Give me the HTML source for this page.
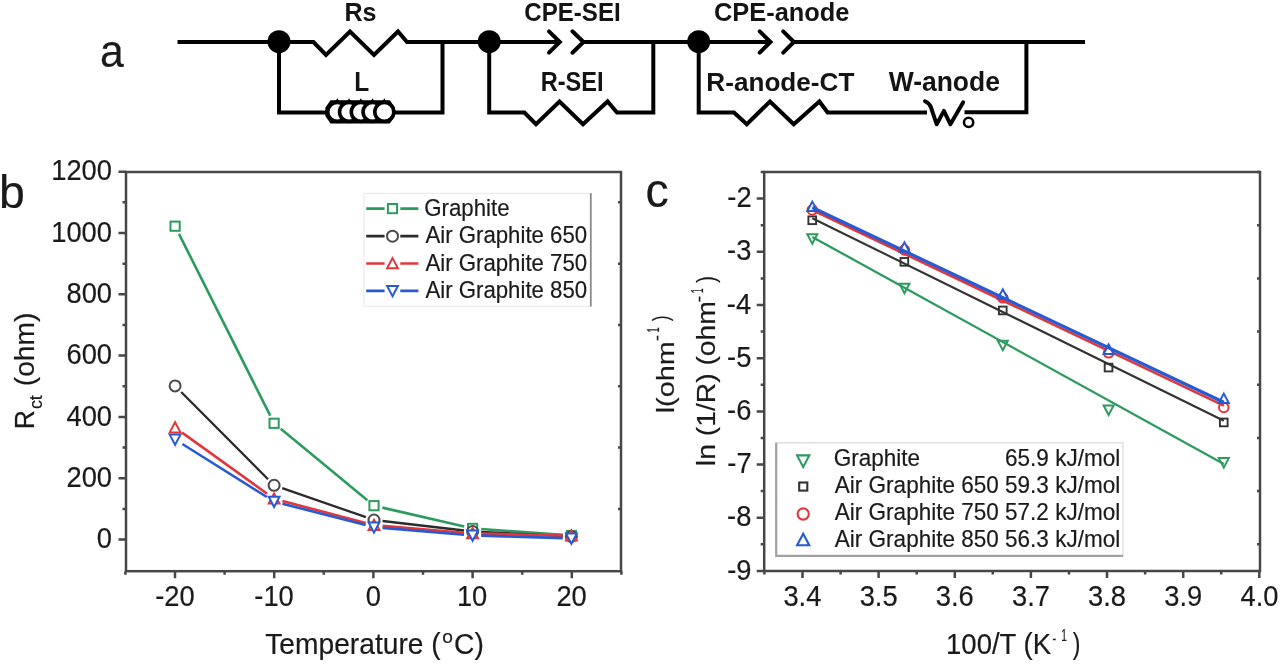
<!DOCTYPE html>
<html><head><meta charset="utf-8"><style>html,body{margin:0;padding:0;background:#fff;width:1280px;height:664px;overflow:hidden;position:relative}text{font-family:"Liberation Sans",sans-serif}text[font-weight="normal"]{stroke:#222;stroke-width:0.2px}</style></head><body>
<svg width="1280" height="664" viewBox="0 0 1280 664" style="position:absolute;left:0;top:0;filter:blur(0.55px)">
<rect width="1280" height="664" fill="#fff"/>
<g fill="none" stroke="#000" stroke-width="4" stroke-linejoin="miter">
<path d="M177.5 42 H313.5 L326 55 L350 31.5 L374 55 L398 31.5 L407 42 H559.8"/>
<path d="M583.5 42 H769.5"/>
<path d="M793.9 42 H1085"/>
<path d="M549 31.3 L559.8 42 L549 52.7" stroke-linecap="round"/>
<path d="M572.4 31.3 L583.5 42 L572.4 52.7" stroke-linecap="round"/>
<path d="M759.7 31.3 L770.5 42 L759.7 52.7" stroke-linecap="round"/>
<path d="M783.2 31.3 L793.9 42 L783.2 52.7" stroke-linecap="round"/>
<path d="M279 42 V112.5 H327"/>
<path d="M395 112.5 H442.5 V42"/>
<path d="M489.2 42 V112.5 H524.4 L536 124.2 L559.5 101.5 L583 124.2 L607.6 101.5 L617 112.5 H653.3 V42"/>
<path d="M698.7 42 V112.5 H734 L746.8 124.2 L770 101.5 L793.7 124.2 L819.4 101.5 L827.6 112.5 H927"/>
<path d="M964.5 112.3 H1026.4 V42"/>
</g>
<circle cx="279" cy="41.7" r="11.5" fill="#000"/>
<circle cx="489.2" cy="41.7" r="11.5" fill="#000"/>
<circle cx="698.7" cy="41.7" r="11.5" fill="#000"/>
<path d="M325.3 107.8 L330.5 100.2 H389.8 L395 107.8 V116 L389.8 123.5 H330.5 L325.3 116 Z" fill="#000"/>
<g stroke="#000" stroke-width="3.6" fill="#fff">
<circle cx="337.30" cy="111.9" r="9.5"/>
<circle cx="349.05" cy="111.9" r="9.5"/>
<circle cx="360.80" cy="111.9" r="9.5"/>
<circle cx="372.55" cy="111.9" r="9.5"/>
<circle cx="384.30" cy="111.9" r="9.5"/>
</g>
<path d="M335.70 101 L337.30 98.3 L338.90 101 Z M347.45 101 L349.05 98.3 L350.65 101 Z M359.20 101 L360.80 98.3 L362.40 101 Z M370.95 101 L372.55 98.3 L374.15 101 Z M382.70 101 L384.30 98.3 L385.90 101 Z" fill="#000"/>
<path d="M925 101.2 Q929.6 103 931 107.5 L936.7 124.3 L943.9 110.9 L950.4 124.3 L963.2 102.3" fill="none" stroke="#000" stroke-width="3.9" stroke-linecap="round" stroke-linejoin="round"/>
<circle cx="968.6" cy="122.4" r="4.6" fill="none" stroke="#000" stroke-width="2.6"/>
<g font-family="Liberation Sans, sans-serif">
<text transform="translate(344.47,21.00) scale(0.9450,1)" font-size="26.5" font-weight="bold" fill="#141414" >Rs</text>
<text transform="translate(524.34,21.10) scale(0.9088,1)" font-size="26.5" font-weight="bold" fill="#141414" >CPE-SEI</text>
<text transform="translate(713.98,21.00) scale(0.9592,1)" font-size="26.5" font-weight="bold" fill="#141414" >CPE-anode</text>
<text transform="translate(354.31,91.20) scale(0.8929,1)" font-size="27.4" font-weight="bold" fill="#141414" >L</text>
<text transform="translate(540.67,91.20) scale(0.8609,1)" font-size="27.4" font-weight="bold" fill="#141414" >R-SEI</text>
<text transform="translate(706.30,91.00) scale(0.9869,1)" font-size="26.5" font-weight="bold" fill="#141414" >R-anode-CT</text>
<text transform="translate(888.70,91.30) scale(0.9882,1)" font-size="26.8" font-weight="bold" fill="#141414" >W-anode</text>
<text transform="translate(100.09,67.20) scale(0.9089,1)" font-size="47" font-weight="normal" fill="#1a1a1a" >a</text>
<text transform="translate(-1.12,208.20) scale(1.0097,1)" font-size="46" font-weight="normal" fill="#1a1a1a" >b</text>
<text transform="translate(645.54,206.90) scale(0.9776,1)" font-size="47.5" font-weight="normal" fill="#1a1a1a" >c</text>
</g>
<g stroke="#474747" stroke-width="2.5" fill="none">
<rect x="126" y="172" width="495" height="399.20000000000005"/>
<path d="M118.5 539.6 H126 M118.5 478.3 H126 M118.5 417.0 H126 M118.5 355.6 H126 M118.5 294.3 H126 M118.5 233.0 H126 M118.5 171.7 H126 M122.5 508.9 H126 M621 508.9 H618 M122.5 447.6 H126 M621 447.6 H618 M122.5 386.3 H126 M621 386.3 H618 M122.5 325.0 H126 M621 325.0 H618 M122.5 263.7 H126 M621 263.7 H618 M122.5 202.3 H126 M621 202.3 H618 M175.0 571.2 V578.2 M274.2 571.2 V578.2 M373.4 571.2 V578.2 M472.6 571.2 V578.2 M571.8 571.2 V578.2 M125.4 571.2 V574.7 M224.6 571.2 V574.7 M323.8 571.2 V574.7 M423.0 571.2 V574.7 M522.2 571.2 V574.7 M621.4 571.2 V574.7"/>
</g>
<g font-family="Liberation Sans, sans-serif">
<text transform="translate(96.80,548.30) scale(0.9320,1)" font-size="29.3" font-weight="normal" fill="#1a1a1a" >0</text>
<text transform="translate(66.49,486.98) scale(0.9320,1)" font-size="29.3" font-weight="normal" fill="#1a1a1a" >200</text>
<text transform="translate(66.49,425.66) scale(0.9320,1)" font-size="29.3" font-weight="normal" fill="#1a1a1a" >400</text>
<text transform="translate(66.49,364.34) scale(0.9320,1)" font-size="29.3" font-weight="normal" fill="#1a1a1a" >600</text>
<text transform="translate(66.49,303.02) scale(0.9320,1)" font-size="29.3" font-weight="normal" fill="#1a1a1a" >800</text>
<text transform="translate(51.20,241.70) scale(0.9320,1)" font-size="29.3" font-weight="normal" fill="#1a1a1a" >1000</text>
<text transform="translate(51.20,180.38) scale(0.9320,1)" font-size="29.3" font-weight="normal" fill="#1a1a1a" >1200</text>
<text transform="translate(155.13,606.20) scale(0.9320,1)" font-size="29.3" font-weight="normal" fill="#1a1a1a" >-20</text>
<text transform="translate(254.33,606.20) scale(0.9320,1)" font-size="29.3" font-weight="normal" fill="#1a1a1a" >-10</text>
<text transform="translate(365.75,606.20) scale(0.9320,1)" font-size="29.3" font-weight="normal" fill="#1a1a1a" >0</text>
<text transform="translate(456.90,606.20) scale(0.9320,1)" font-size="29.3" font-weight="normal" fill="#1a1a1a" >10</text>
<text transform="translate(556.44,606.20) scale(0.9320,1)" font-size="29.3" font-weight="normal" fill="#1a1a1a" >20</text>
</g>
<path d="M178.96 233.89 L270.24 415.61 M280.73 428.77 L367.37 500.23 M382.38 507.63 L464.22 526.47 M481.18 529.02 L562.82 534.88" fill="none" stroke="#2d9b5f" stroke-width="2.6"/>
<rect x="170.5" y="221.6" width="9.2" height="9.2" fill="#fff" stroke="#2d9b5f" stroke-width="2"/>
<rect x="269.5" y="418.7" width="9.2" height="9.2" fill="#fff" stroke="#2d9b5f" stroke-width="2"/>
<rect x="369.4" y="501.1" width="9.2" height="9.2" fill="#fff" stroke="#2d9b5f" stroke-width="2"/>
<rect x="468.0" y="523.8" width="9.2" height="9.2" fill="#fff" stroke="#2d9b5f" stroke-width="2"/>
<rect x="566.8" y="530.9" width="9.2" height="9.2" fill="#fff" stroke="#2d9b5f" stroke-width="2"/>
<path d="M181.17 391.99 L268.03 479.21 M282.22 488.12 L365.88 517.18 M382.54 521.00 L464.06 530.50 M481.19 531.93 L562.81 536.07" fill="none" stroke="#2b2b2b" stroke-width="2.3"/>
<circle cx="175.1" cy="385.9" r="5.5" fill="#fff" stroke="#4a4a4a" stroke-width="2"/>
<circle cx="274.1" cy="485.3" r="5.5" fill="#fff" stroke="#4a4a4a" stroke-width="2"/>
<circle cx="374.0" cy="520.0" r="5.5" fill="#fff" stroke="#4a4a4a" stroke-width="2"/>
<circle cx="472.6" cy="531.5" r="5.5" fill="#fff" stroke="#4a4a4a" stroke-width="2"/>
<circle cx="571.4" cy="536.5" r="5.5" fill="#fff" stroke="#4a4a4a" stroke-width="2"/>
<path d="M182.08 432.62 L267.12 493.78 M282.41 501.00 L365.69 523.00 M382.57 525.91 L464.03 532.69 M481.20 533.61 L562.80 535.59" fill="none" stroke="#e1373c" stroke-width="2.6"/>
<path d="M175.1 422.2 L180.5 432.4 L169.7 432.4 Z" fill="#fff" stroke="#e1373c" stroke-width="2" stroke-linejoin="miter"/>
<path d="M274.1 493.4 L279.5 503.6 L268.7 503.6 Z" fill="#fff" stroke="#e1373c" stroke-width="2" stroke-linejoin="miter"/>
<path d="M374.0 519.8 L379.4 530.0 L368.6 530.0 Z" fill="#fff" stroke="#e1373c" stroke-width="2" stroke-linejoin="miter"/>
<path d="M472.6 528.0 L478.0 538.2 L467.2 538.2 Z" fill="#fff" stroke="#e1373c" stroke-width="2" stroke-linejoin="miter"/>
<path d="M571.4 530.4 L576.8 540.6 L566.0 540.6 Z" fill="#fff" stroke="#e1373c" stroke-width="2" stroke-linejoin="miter"/>
<path d="M182.38 443.98 L266.82 497.02 M282.43 503.73 L365.67 525.07 M382.57 527.91 L464.03 534.69 M481.20 535.66 L562.80 538.14" fill="none" stroke="#285ad2" stroke-width="2.6"/>
<path d="M175.1 444.8 L180.5 434.6 L169.7 434.6 Z" fill="#fff" stroke="#285ad2" stroke-width="2" stroke-linejoin="miter"/>
<path d="M274.1 507.0 L279.5 496.8 L268.7 496.8 Z" fill="#fff" stroke="#285ad2" stroke-width="2" stroke-linejoin="miter"/>
<path d="M374.0 532.6 L379.4 522.4 L368.6 522.4 Z" fill="#fff" stroke="#285ad2" stroke-width="2" stroke-linejoin="miter"/>
<path d="M472.6 540.8 L478.0 530.6 L467.2 530.6 Z" fill="#fff" stroke="#285ad2" stroke-width="2" stroke-linejoin="miter"/>
<path d="M571.4 543.8 L576.8 533.6 L566.0 533.6 Z" fill="#fff" stroke="#285ad2" stroke-width="2" stroke-linejoin="miter"/>
<rect x="364" y="193.3" width="226.5" height="113" fill="#fff" stroke="#e8e8e8" stroke-width="1"/>
<path d="M590.8 193.1 V306.5" stroke="#8a8a8a" stroke-width="1.8"/>
<g font-family="Liberation Sans, sans-serif">
<path d="M366.2 208.6 H384.6 M400.3 208.6 H418.4" stroke="#2d9b5f" stroke-width="2.7"/>
<rect x="387.9" y="204.0" width="9.2" height="9.2" fill="#fff" stroke="#2d9b5f" stroke-width="2"/>
<text transform="translate(424.29,215.80) scale(0.9456,1)" font-size="23.5" font-weight="normal" fill="#1a1a1a" >Graphite</text>
<path d="M366.2 236.2 H384.6 M400.3 236.2 H418.4" stroke="#2b2b2b" stroke-width="2.7"/>
<circle cx="392.5" cy="236.2" r="5.5" fill="#fff" stroke="#4a4a4a" stroke-width="2"/>
<text transform="translate(425.40,243.40) scale(0.9456,1)" font-size="23.5" font-weight="normal" fill="#1a1a1a" >Air Graphite 650</text>
<path d="M366.2 263.5 H384.6 M400.3 263.5 H418.4" stroke="#e1373c" stroke-width="2.7"/>
<path d="M392.5 258.1 L397.9 268.3 L387.1 268.3 Z" fill="#fff" stroke="#e1373c" stroke-width="2" stroke-linejoin="miter"/>
<text transform="translate(425.40,270.70) scale(0.9456,1)" font-size="23.5" font-weight="normal" fill="#1a1a1a" >Air Graphite 750</text>
<path d="M366.2 290.8 H384.6 M400.3 290.8 H418.4" stroke="#285ad2" stroke-width="2.7"/>
<path d="M392.5 296.2 L397.9 286.0 L387.1 286.0 Z" fill="#fff" stroke="#285ad2" stroke-width="2" stroke-linejoin="miter"/>
<text transform="translate(425.40,298.00) scale(0.9456,1)" font-size="23.5" font-weight="normal" fill="#1a1a1a" >Air Graphite 850</text>
</g>
<g font-family="Liberation Sans, sans-serif">
<text transform="translate(265.24,653.80) scale(0.9831,1)" font-size="28.7" font-weight="normal" fill="#1a1a1a">Temperature (</text>
<text transform="translate(442.13,642.60) scale(1.0083,1)" font-size="19" font-weight="normal" fill="#1a1a1a">o</text>
<text transform="translate(453.99,653.80) scale(0.9860,1)" font-size="28.7" font-weight="normal" fill="#1a1a1a">C)</text>
<text transform="translate(33.50,429.22) rotate(-90) scale(0.9317,1)" font-size="28.5" font-weight="normal" fill="#1a1a1a">R</text>
<text transform="translate(41.50,409.11) rotate(-90) scale(1.0176,1)" font-size="17.5" font-weight="normal" fill="#1a1a1a">ct</text>
<text transform="translate(33.50,386.19) rotate(-90) scale(0.9892,1)" font-size="28.5" font-weight="normal" fill="#1a1a1a">(ohm)</text>
</g>
<g stroke="#474747" stroke-width="2.5" fill="none">
<rect x="764.2" y="172" width="495.79999999999995" height="399"/>
<path d="M756.7 570.9 H764.2 M756.7 517.7 H764.2 M756.7 464.5 H764.2 M756.7 411.4 H764.2 M756.7 358.2 H764.2 M756.7 305.0 H764.2 M756.7 251.8 H764.2 M756.7 198.6 H764.2 M760.7 544.3 H764.2 M1260 544.3 H1257 M760.7 491.1 H764.2 M1260 491.1 H1257 M760.7 438.0 H764.2 M1260 438.0 H1257 M760.7 384.8 H764.2 M1260 384.8 H1257 M760.7 331.6 H764.2 M1260 331.6 H1257 M760.7 278.4 H764.2 M1260 278.4 H1257 M760.7 225.2 H764.2 M1260 225.2 H1257 M760.7 172.0 H764.2 M1260 172.0 H1257 M802.5 571 V578 M878.6 571 V578 M954.8 571 V578 M1030.9 571 V578 M1107.0 571 V578 M1183.2 571 V578 M1259.3 571 V578 M764.4 571 V574.5 M840.6 571 V574.5 M916.7 571 V574.5 M992.8 571 V574.5 M1069.0 571 V574.5 M1145.1 571 V574.5 M1221.2 571 V574.5"/>
</g>
<g font-family="Liberation Sans, sans-serif">
<text transform="translate(727.23,579.63) scale(0.9320,1)" font-size="29.3" font-weight="normal" fill="#1a1a1a" >-9</text>
<text transform="translate(727.09,526.44) scale(0.9320,1)" font-size="29.3" font-weight="normal" fill="#1a1a1a" >-8</text>
<text transform="translate(727.36,473.25) scale(0.9320,1)" font-size="29.3" font-weight="normal" fill="#1a1a1a" >-7</text>
<text transform="translate(727.09,420.06) scale(0.9320,1)" font-size="29.3" font-weight="normal" fill="#1a1a1a" >-6</text>
<text transform="translate(727.09,366.87) scale(0.9320,1)" font-size="29.3" font-weight="normal" fill="#1a1a1a" >-5</text>
<text transform="translate(726.82,313.68) scale(0.9320,1)" font-size="29.3" font-weight="normal" fill="#1a1a1a" >-4</text>
<text transform="translate(727.09,260.49) scale(0.9320,1)" font-size="29.3" font-weight="normal" fill="#1a1a1a" >-3</text>
<text transform="translate(727.36,207.30) scale(0.9320,1)" font-size="29.3" font-weight="normal" fill="#1a1a1a" >-2</text>
<text transform="translate(783.38,606.20) scale(0.9320,1)" font-size="29.3" font-weight="normal" fill="#1a1a1a" >3.4</text>
<text transform="translate(859.65,606.20) scale(0.9320,1)" font-size="29.3" font-weight="normal" fill="#1a1a1a" >3.5</text>
<text transform="translate(935.78,606.20) scale(0.9320,1)" font-size="29.3" font-weight="normal" fill="#1a1a1a" >3.6</text>
<text transform="translate(1012.05,606.20) scale(0.9320,1)" font-size="29.3" font-weight="normal" fill="#1a1a1a" >3.7</text>
<text transform="translate(1088.04,606.20) scale(0.9320,1)" font-size="29.3" font-weight="normal" fill="#1a1a1a" >3.8</text>
<text transform="translate(1164.24,606.20) scale(0.9320,1)" font-size="29.3" font-weight="normal" fill="#1a1a1a" >3.9</text>
<text transform="translate(1240.51,606.20) scale(0.9320,1)" font-size="29.3" font-weight="normal" fill="#1a1a1a" >4.0</text>
</g>
<path d="M812.3 243.7 L817.3 234.2 L807.3 234.2 Z" fill="#fff" stroke="#2d9b5f" stroke-width="2" stroke-linejoin="miter"/>
<path d="M904.4 293.2 L909.4 283.7 L899.4 283.7 Z" fill="#fff" stroke="#2d9b5f" stroke-width="2" stroke-linejoin="miter"/>
<path d="M1002.8 350.2 L1007.8 340.7 L997.8 340.7 Z" fill="#fff" stroke="#2d9b5f" stroke-width="2" stroke-linejoin="miter"/>
<path d="M1108.6 415.0 L1113.6 405.5 L1103.6 405.5 Z" fill="#fff" stroke="#2d9b5f" stroke-width="2" stroke-linejoin="miter"/>
<path d="M1223.8 467.6 L1228.8 458.1 L1218.8 458.1 Z" fill="#fff" stroke="#2d9b5f" stroke-width="2" stroke-linejoin="miter"/>
<path d="M812.3 236.9 L1223.8 464.0" stroke="#2d9b5f" stroke-width="2.3"/>
<rect x="808.4" y="216.4" width="7.7" height="7.7" fill="#fff" stroke="#333333" stroke-width="1.9"/>
<rect x="900.5" y="258.0" width="7.7" height="7.7" fill="#fff" stroke="#333333" stroke-width="1.9"/>
<rect x="998.9" y="306.6" width="7.7" height="7.7" fill="#fff" stroke="#333333" stroke-width="1.9"/>
<rect x="1104.7" y="363.7" width="7.7" height="7.7" fill="#fff" stroke="#333333" stroke-width="1.9"/>
<rect x="1219.9" y="418.6" width="7.7" height="7.7" fill="#fff" stroke="#333333" stroke-width="1.9"/>
<path d="M812.3 218.2 L1223.8 420.8" stroke="#333333" stroke-width="2.1"/>
<circle cx="812.3" cy="210.0" r="4.8" fill="#fff" stroke="#e1373c" stroke-width="2"/>
<circle cx="904.4" cy="250.0" r="4.8" fill="#fff" stroke="#e1373c" stroke-width="2"/>
<circle cx="1002.8" cy="297.8" r="4.8" fill="#fff" stroke="#e1373c" stroke-width="2"/>
<circle cx="1108.6" cy="352.8" r="4.8" fill="#fff" stroke="#e1373c" stroke-width="2"/>
<circle cx="1223.8" cy="407.5" r="4.8" fill="#fff" stroke="#e1373c" stroke-width="2"/>
<path d="M812.3 210.0 L1223.8 405.7" stroke="#e1373c" stroke-width="2.6"/>
<path d="M812.3 201.6 L817.3 211.1 L807.3 211.1 Z" fill="#fff" stroke="#285ad2" stroke-width="2" stroke-linejoin="miter"/>
<path d="M904.4 242.3 L909.4 251.8 L899.4 251.8 Z" fill="#fff" stroke="#285ad2" stroke-width="2" stroke-linejoin="miter"/>
<path d="M1002.8 289.3 L1007.8 298.8 L997.8 298.8 Z" fill="#fff" stroke="#285ad2" stroke-width="2" stroke-linejoin="miter"/>
<path d="M1108.6 344.5 L1113.6 354.0 L1103.6 354.0 Z" fill="#fff" stroke="#285ad2" stroke-width="2" stroke-linejoin="miter"/>
<path d="M1223.8 393.6 L1228.8 403.1 L1218.8 403.1 Z" fill="#fff" stroke="#285ad2" stroke-width="2" stroke-linejoin="miter"/>
<path d="M812.3 207.5 L1223.8 402.2" stroke="#285ad2" stroke-width="3.2"/>
<rect x="776" y="442.8" width="347" height="113" fill="#fff" stroke="#dadada" stroke-width="1.2"/>
<path d="M776.2 442.8 V555.8 H1123" fill="none" stroke="#a2a2a2" stroke-width="2.2"/>
<g font-family="Liberation Sans, sans-serif">
<path d="M803.2 466.9 L809.3 455.4 L797.1 455.4 Z" fill="#fff" stroke="#2d9b5f" stroke-width="2.1" stroke-linejoin="miter"/>
<text transform="translate(833.67,466.20) scale(0.9588,1)" font-size="23.5" font-weight="normal" fill="#1a1a1a" >Graphite</text>
<text transform="translate(1005.03,466.20) scale(0.9588,1)" font-size="23.5" font-weight="normal" fill="#1a1a1a" >65.9 kJ/mol</text>
<rect x="799.2" y="482.5" width="8.1" height="8.1" fill="#fff" stroke="#333333" stroke-width="2.1"/>
<text transform="translate(834.80,493.00) scale(0.9588,1)" font-size="23.5" font-weight="normal" fill="#1a1a1a" >Air Graphite 650</text>
<text transform="translate(1005.03,493.00) scale(0.9588,1)" font-size="23.5" font-weight="normal" fill="#1a1a1a" >59.3 kJ/mol</text>
<circle cx="803.2" cy="514.0" r="5.6" fill="#fff" stroke="#e1373c" stroke-width="2.1"/>
<text transform="translate(834.80,520.20) scale(0.9588,1)" font-size="23.5" font-weight="normal" fill="#1a1a1a" >Air Graphite 750</text>
<text transform="translate(1005.03,520.20) scale(0.9588,1)" font-size="23.5" font-weight="normal" fill="#1a1a1a" >57.2 kJ/mol</text>
<path d="M803.2 533.7 L809.3 545.2 L797.1 545.2 Z" fill="#fff" stroke="#285ad2" stroke-width="2.1" stroke-linejoin="miter"/>
<text transform="translate(834.80,546.90) scale(0.9588,1)" font-size="23.5" font-weight="normal" fill="#1a1a1a" >Air Graphite 850</text>
<text transform="translate(1005.03,546.90) scale(0.9588,1)" font-size="23.5" font-weight="normal" fill="#1a1a1a" >56.3 kJ/mol</text>
</g>
<g font-family="Liberation Sans, sans-serif">
<text transform="translate(946.03,653.60) scale(0.9594,1)" font-size="28.7" font-weight="normal" fill="#1a1a1a">100/T (K</text>
<text transform="translate(1052.40,643.60) scale(0.6888,1)" font-size="16" font-weight="normal" fill="#1a1a1a">-</text>
<text transform="translate(1061.24,641.00) scale(0.6130,1)" font-size="16.5" font-weight="normal" fill="#1a1a1a">1</text>
<text transform="translate(1072.78,653.60) scale(0.8021,1)" font-size="28.7" font-weight="normal" fill="#1a1a1a">)</text>
<text transform="translate(715.20,466.14) rotate(-90) scale(1.0888,1)" font-size="26" font-weight="normal" fill="#1a1a1a">ln (1/R) (ohm</text>
<text transform="translate(703.60,302.52) rotate(-90) scale(1.2755,1)" font-size="16" font-weight="normal" fill="#1a1a1a">-</text>
<text transform="translate(703.40,293.27) rotate(-90) scale(0.5274,1)" font-size="17" font-weight="normal" fill="#1a1a1a">1</text>
<text transform="translate(715.20,282.70) rotate(-90) scale(0.7519,1)" font-size="26.6" font-weight="normal" fill="#1a1a1a">)</text>
<text transform="translate(673.80,413.27) rotate(-90) scale(1.1755,1)" font-size="24.5" font-weight="normal" fill="#1a1a1a">l(ohm</text>
<text transform="translate(661.60,341.01) rotate(-90) scale(1.1224,1)" font-size="16" font-weight="normal" fill="#1a1a1a">-</text>
<text transform="translate(659.10,332.51) rotate(-90) scale(0.5544,1)" font-size="17" font-weight="normal" fill="#1a1a1a">1</text>
<text transform="translate(667.70,320.98) rotate(-90) scale(0.7547,1)" font-size="22" font-weight="normal" fill="#1a1a1a">)</text>
</g>
</svg>
</body></html>
